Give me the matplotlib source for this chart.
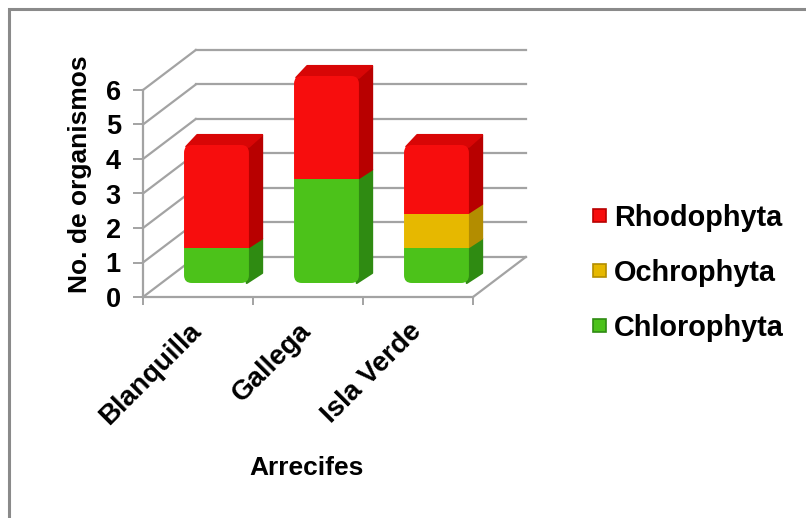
import matplotlib
matplotlib.use("Agg")
import matplotlib.pyplot as plt
import matplotlib.transforms as mtransforms
from matplotlib.patches import Polygon, Rectangle, FancyBboxPatch
import numpy as np

plt.rcParams['font.family'] = ['Liberation Sans', 'DejaVu Sans']
plt.rcParams['font.weight'] = 'bold'

# --- data -------------------------------------------------------------
arrecifes = ["Blanquilla", "Gallega", "Isla Verde"]
series = ["Chlorophyta", "Ochrophyta", "Rhodophyta"]
chlorophyta = [1, 3, 1]
ochrophyta = [0, 0, 1]
rhodophyta = [3, 3, 2]
y_ticks = [0, 1, 2, 3, 4, 5, 6]

# --- styling ----------------------------------------------------------
front_col = {"Chlorophyta": "#4cc21a", "Ochrophyta": "#e6b800", "Rhodophyta": "#f70d0d"}
side_col = {"Chlorophyta": "#2f8b12", "Ochrophyta": "#b38d00", "Rhodophyta": "#b80000"}
top_col = {"Chlorophyta": "#3aa814", "Ochrophyta": "#cfa300", "Rhodophyta": "#d80606"}
grid_col = "#a3a3a3"

W, H = 806, 518
fig = plt.figure(figsize=(W / 100, H / 100), dpi=100)

# oblique "3-D" wall depth, in data units (x: categories, y: values)
DX, DY = 0.48, 1.16
Z0, Z1 = 0.35, 0.60      # bar front/back depth fraction
BAR_W = 0.59

# axes placement: data origin at pixel (143, 297), 110 px per category, 34.5 px per unit
px_x, px_y, ux, uy = 143, 297, 110, 34.5
xlim = (-0.2, 3.7)
ylim = (-0.5, 7.5)
left_px = px_x + xlim[0] * ux
right_px = px_x + xlim[1] * ux
bot_px = px_y - ylim[0] * uy
top_px = px_y - ylim[1] * uy
ax = fig.add_axes([left_px / W, 1 - bot_px / H, (right_px - left_px) / W, (bot_px - top_px) / H])
ax.set_xlim(*xlim)
ax.set_ylim(*ylim)
ax.patch.set_alpha(0)

# back wall gridlines and side-wall diagonals
n_cat = len(arrecifes)
for v in y_ticks:
    ax.plot([DX, n_cat + DX], [v + DY, v + DY], color=grid_col, lw=1.6, zorder=1)
    ax.plot([0, DX], [v, v + DY], color=grid_col, lw=1.6, zorder=1)
# floor right edge
ax.plot([n_cat, n_cat + DX], [0, DY], color=grid_col, lw=1.6, zorder=1)

# spines as front axes
for s in ["top", "right"]:
    ax.spines[s].set_visible(False)
ax.spines["left"].set_position(("data", 0))
ax.spines["left"].set_bounds(0, max(y_ticks))
ax.spines["bottom"].set_position(("data", 0))
ax.spines["bottom"].set_bounds(0, n_cat)
for s in ["left", "bottom"]:
    ax.spines[s].set_color(grid_col)
    ax.spines[s].set_linewidth(1.6)

ax.set_yticks(y_ticks)
ax.set_yticklabels([str(t) for t in y_ticks], fontsize=19.5, fontweight="bold")
ax.tick_params(axis="y", direction="out", length=7, width=1.4, color=grid_col, pad=9)

ax.set_xticks(np.arange(n_cat + 1))
ax.set_xticklabels([])
ax.tick_params(axis="x", which="major", direction="out", length=6, width=1.4, color=grid_col)
ax.set_xticks(np.arange(n_cat) + 0.5, minor=True)
ax.set_xticklabels(arrecifes, minor=True, rotation=45, ha="right", va="top",
                   rotation_mode="anchor", fontsize=20, fontweight="bold")
ax.tick_params(axis="x", which="minor", length=0, pad=17)
shift = mtransforms.ScaledTranslation(-7 / 72, 2 / 72, fig.dpi_scale_trans)
for lbl in ax.get_xticklabels(minor=True):
    lbl.set_transform(lbl.get_transform() + shift)

# stacked 3-D bars
values = {"Chlorophyta": chlorophyta, "Ochrophyta": ochrophyta, "Rhodophyta": rhodophyta}
x_front = np.arange(n_cat) + 0.5 + Z0 * DX
dzx, dzy = (Z1 - Z0) * DX, (Z1 - Z0) * DY
bottom = np.zeros(n_cat)
totals = np.sum([values[s] for s in series], axis=0)

# rounded outline of each bar's front face, used to clip the stacked segments
clips = []
for i in range(n_cat):
    clip = FancyBboxPatch((x_front[i] - BAR_W / 2, Z0 * DY), BAR_W, totals[i],
                          boxstyle="round,pad=0,rounding_size=0.07",
                          mutation_aspect=ux / uy, transform=ax.transData,
                          facecolor="none", edgecolor="none")
    ax.add_patch(clip)
    clips.append(clip)

for s in series:
    vals = np.array(values[s], dtype=float)
    base = bottom + Z0 * DY
    bars = ax.bar(x_front, vals, width=BAR_W, bottom=base, color=front_col[s],
                  edgecolor="none", zorder=3)
    for i, rect in enumerate(bars):
        rect.set_clip_path(clips[i])
    for i in range(n_cat):
        if vals[i] <= 0:
            continue
        xr = x_front[i] + BAR_W / 2
        xl = x_front[i] - BAR_W / 2
        b, t = base[i], base[i] + vals[i]
        ax.add_patch(Polygon([(xr - 0.02, b), (xr + dzx, b + dzy), (xr + dzx, t + dzy), (xr - 0.02, t)],
                             closed=True, facecolor=side_col[s], edgecolor=side_col[s],
                             lw=1.5, joinstyle="round", zorder=2))
        if np.isclose(bottom[i] + vals[i], totals[i]):
            ax.add_patch(Polygon([(xl + 0.02, t - 0.05), (xl + dzx, t + dzy), (xr + dzx, t + dzy), (xr, t - 0.05)],
                                 closed=True, facecolor=top_col[s], edgecolor=top_col[s],
                                 lw=1.5, joinstyle="round", zorder=2))
    bottom += vals

# axis titles
fig.text(80 / W, 1 - 174 / H, "No. de organismos", rotation=90, ha="center", va="center",
         fontsize=19, fontweight="bold")
fig.text(307 / W, 1 - 468 / H, "Arrecifes", ha="center", va="center",
         fontsize=19, fontweight="bold")

# legend
leg_rows = [("Rhodophyta", 215), ("Ochrophyta", 270), ("Chlorophyta", 325)]
for name, yc in leg_rows:
    fig.patches.append(Rectangle((593 / W, 1 - (yc + 6.5) / H), 13 / W, 13 / H,
                                 transform=fig.transFigure, facecolor=front_col[name],
                                 edgecolor=side_col[name], lw=1.2))
    fig.text(614 / W, 1 - yc / H, name, ha="left", va="center_baseline",
             fontsize=20.8, fontweight="bold")

# chart border (top and left edges visible)
fig.patches.append(Rectangle((9 / W, -0.1), 1.2, (1 - 9 / H) + 0.1, transform=fig.transFigure,
                             facecolor="none", edgecolor="#8a8a8a", lw=2.2))

fig.savefig("out.png", dpi=100)
